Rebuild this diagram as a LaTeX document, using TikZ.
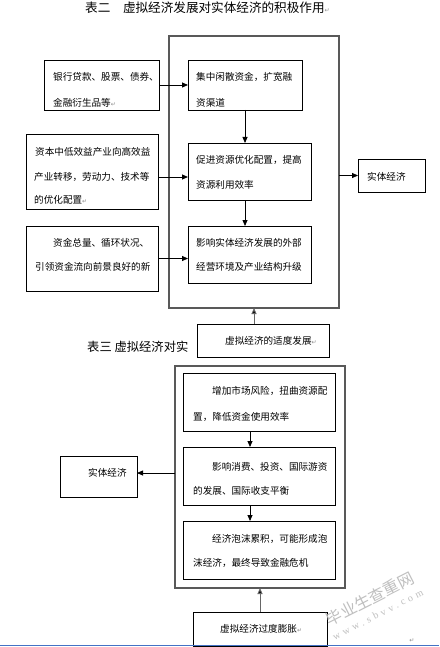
\documentclass[tikz,border=0pt]{standalone}
\usepackage{fontspec}
\setmainfont{Noto Sans CJK SC}
\newfontfamily\dejavu{DejaVu Sans}
\newfontfamily\wmfont[LetterSpace=35]{Liberation Serif}
\usetikzlibrary{arrows.meta}
\definecolor{edgeblue}{RGB}{68,114,196}
\newcommand\pmark{\textcolor{black!45}{\dejavu\fontsize{6}{6}\selectfont ↵}}
\tikzset{
  box/.style={draw=black, line width=0.8pt, fill=white, inner sep=0pt, outer sep=0pt, anchor=north west},
  outerbox/.style={draw=black!65, line width=1.2pt, inner sep=0pt, outer sep=0pt, anchor=north west},
  txt/.style={anchor=west, inner sep=0pt, font=\fontsize{9.6}{9.6}\selectfont},
  ttl/.style={anchor=west, inner sep=0pt, font=\fontsize{12.6}{12.6}\selectfont},
  arr/.style={draw=black, line width=0.8pt, -{Triangle[length=6pt,width=5pt]}},
  arrg/.style={draw=black!60, line width=1pt, -{Triangle[length=6pt,width=5pt,fill=black]}},
}
\begin{document}
\begin{tikzpicture}[x=1pt,y=-1pt]
\useasboundingbox (0,0) rectangle (439,647);
\fill[white] (0,0) rectangle (439,647);

% ---------- Table 2 ----------
\node[ttl] (t2) at (85,7.5) {表二　虚拟经济发展对实体经济的积极作用\pmark};

\node[outerbox, minimum width=170pt, minimum height=272pt] (O1) at (169,36) {};

\node[box, minimum width=115pt, minimum height=50pt] (L1) at (44,60) {};
\node[box, minimum width=114pt, minimum height=50pt] (M1) at (188,60) {};
\node[box, minimum width=132pt, minimum height=75pt] (L2) at (26,134) {};
\node[box, minimum width=123pt, minimum height=57pt] (M2) at (188,143) {};
\node[box, minimum width=67pt, minimum height=33pt] (R1) at (358,159) {};
\node[box, minimum width=132pt, minimum height=65pt] (L3) at (26,226) {};
\node[box, minimum width=123pt, minimum height=57pt] (M3) at (188,226) {};

\node[txt] (l1a) at (53,77) {银行贷款、股票、债券、};
\node[txt] (l1b) at (53,103) {金融衍生品等\pmark};
\node[txt] (m1a) at (196,77) {集中闲散资金，扩宽融};
\node[txt] (m1b) at (196,103) {资渠道};
\node[txt] (l2a) at (35,152) {资本中低效益产业向高效益};
\node[txt] (l2b) at (34,177) {产业转移，劳动力、技术等};
\node[txt] (l2c) at (34,200) {的优化配置\pmark};
\node[txt] (m2a) at (196,160) {促进资源优化配置，提高};
\node[txt] (m2b) at (196,185) {资源利用效率};
\node[txt] (r1a) at (367,177) {实体经济};
\node[txt] (l3a) at (53,243) {资金总量、循环状况、};
\node[txt] (l3b) at (35,267) {引领资金流向前景良好的新};
\node[txt] (m3a) at (196,243) {影响实体经济发展的外部};
\node[txt] (m3b) at (196,267) {经营环境及产业结构升级};

\draw[arr] (L1.east) -- (L1.east -| M1.west);
\draw[arr] (M1.south) -- (M1.south |- M2.north);
\draw[arr] ([yshift=-5.5pt]L2.east) -- ([yshift=-5.5pt]L2.east -| M2.west);
\draw[arr] (M1.south |- M2.south) -- (M1.south |- M3.north);
\draw[arr] (L3.east) -- (L3.east -| M3.west);
\draw[arr] (O1.east |- R1.west) -- (R1.west);

% ---------- Table 3 title and V1 ----------
\node[ttl, font=\fontsize{12.3}{12.3}\selectfont] (t3) at (87,347) {表三 虚拟经济对实};
\node[box, minimum width=132pt, minimum height=33pt] (V1) at (197,324) {};
\node[txt] (v1a) at (225,341) {虚拟经济的适度发展\pmark};
\draw[arrg] ([xshift=-9pt]V1.north) -- ([xshift=-9pt]V1.north |- O1.south);

% ---------- Table 3 ----------
\node[outerbox, minimum width=170pt, minimum height=222pt] (O2) at (175,366) {};
\node[box, minimum width=152pt, minimum height=58pt] (B1) at (183,373) {};
\node[box, minimum width=152pt, minimum height=58pt] (B2) at (183,447) {};
\node[box, minimum width=152pt, minimum height=58pt] (B3) at (183,521) {};
\node[box, minimum width=77pt, minimum height=41pt] (R2) at (60,456) {};
\node[box, minimum width=134pt, minimum height=34pt] (V2) at (193,612) {};

\node[txt] (b1a) at (212,391) {增加市场风险，扭曲资源配};
\node[txt] (b1b) at (193,417) {置，降低资金使用效率};
\node[txt] (b2a) at (212,467) {影响消费、投资、国际游资};
\node[txt] (b2b) at (193,491) {的发展、国际收支平衡};
\node[txt] (b3a) at (212,539) {经济泡沫累积，可能形成泡};
\node[txt] (b3b) at (193,563) {沫经济，最终导致金融危机};
\node[txt] (r2a) at (88,473) {实体经济};
\node[txt] (v2a) at (220,629) {虚拟经济过度膨胀\pmark};

\draw[arr] ([xshift=-9pt]B1.south) -- ([xshift=-9pt]B1.south |- B2.north);
\draw[arr] ([xshift=-9pt]B2.south) -- ([xshift=-9pt]B2.south |- B3.north);
\draw[arr] ([yshift=3.5pt]R2.east -| O2.west) -- ([yshift=3.5pt]R2.east);
\draw[arrg] (V2.north) -- (V2.north |- O2.south);

% ---------- watermark and page edge ----------
\node[rotate=27, text=black!25, inner sep=0pt, align=center, font=\fontsize{16}{15}\selectfont] (wm) at (373,605) {毕业生查重网\\{\wmfont\fontsize{10}{10}\selectfont www.sbvv.com}};
\node[inner sep=0pt] (pm) at (412,641) {\pmark};
\draw[edgeblue, line width=1.2pt] (0,645.8) -- (439,645.8);
\end{tikzpicture}
\end{document}
